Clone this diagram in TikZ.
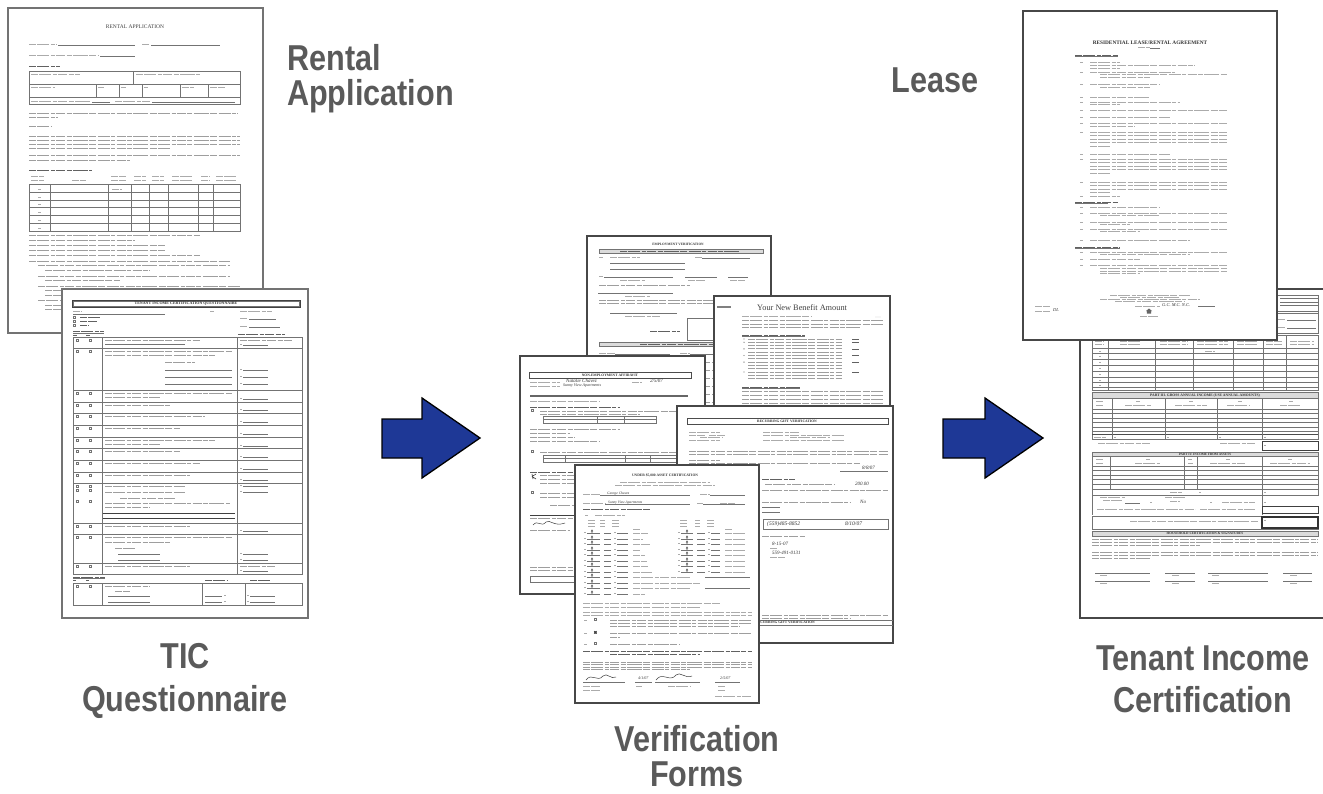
\documentclass[tikz,border=0pt]{standalone}
\usepackage{fontspec}
\setmainfont{Liberation Serif}
\newfontfamily\lblfont{Liberation Sans}[FakeStretch=0.85]
\definecolor{lblgray}{HTML}{5A5A5A}
\definecolor{arrowblue}{RGB}{30,56,150}

\tikzset{
  page/.style={fill=white, draw=black!72, line width=1.2pt},
  tx/.style={draw=black!38, line width=1pt, dash pattern=on 7pt off 1.4pt on 12pt off 1.4pt on 4pt off 1.4pt on 9pt off 1.4pt on 5pt off 1.4pt on 15pt off 1.4pt},
  txd/.style={tx, draw=black!62},
  txs/.style={tx, line width=0.75pt, draw=black!33},
  rl/.style={draw=black!55, line width=0.45pt},
  rlk/.style={draw=black!75, line width=0.9pt},
  bar/.style={fill=black!14, draw=black!55, line width=0.45pt},
  hand/.style={font=\fontsize{5}{5}\selectfont\itshape, text=black!80, inner sep=0pt, anchor=base west},
  ttl/.style={font=\fontsize{3.6}{4}\selectfont\bfseries, text=black!80, inner sep=0pt},
  lbl/.style={font=\lblfont\bfseries\fontsize{36}{40}\selectfont, text=lblgray, inner sep=0pt, anchor=base, text depth=0pt},
  blockarrow/.style={fill=arrowblue, draw=black, line width=1.3pt, line join=miter},
}
% small form helpers: check box, and a "$ ____" amount field
\newcommand\cbx[2]{\draw[rl] (#1,#2) rectangle ++(2.4,2.4);}
\newcommand\dol[2]{\draw[txs] (#1,#2-0.6)--(#1+2,#2-0.6); \draw[rl] (#1+3,#2)--(#1+28,#2);}

\begin{document}
\begin{tikzpicture}[x=1pt,y=-1pt]
\useasboundingbox (0,0) rectangle (1323,793);
\clip (0,0) rectangle (1323,793);

% ---------------- Rental application ----------------
\draw[page, draw=black!55] (8,8) rectangle (263,333);
\node[font=\fontsize{5.5}{6}\selectfont, text=black!75, inner sep=0pt] (ra-title) at (135,27) {RENTAL APPLICATION};
\draw[txs] (29,44)--(57,44) (142,44)--(150,44) (29,55)--(98,55);
\draw[rl] (58,45)--(135,45) (151,45)--(220,45) (100,56)--(135,56);
\draw[txd] (29,66)--(60,66);
\draw[rl] (29,71) rectangle (240,104) (29,84)--(240,84) (29,97)--(240,97) (133,71)--(133,84)
  (96,84)--(96,97) (119,84)--(119,97) (142,84)--(142,97) (180,84)--(180,97) (208,84)--(208,97);
\draw[txs] (31,74)--(80,74) (136,74)--(200,74) (31,87)--(55,87) (98,87)--(104,87) (121,87)--(126,87)
  (144,87)--(148,87) (182,87)--(194,87) (210,87)--(225,87) (31,101)--(90,101) (115,101)--(150,101);
\draw[rl] (92,102)--(110,102) (152,102)--(235,102);
\draw[tx] (29,113)--(238,113) (29,117)--(58,117) (29,126)--(52,126);
\foreach \y in {136,140,144,155} \draw[tx] (29,\y)--(240,\y);
\draw[tx] (29,148)--(170,148) (29,160)--(130,160);
\draw[txd] (29,170)--(92,170);
\draw[txs] (31,176)--(44,176) (31,180)--(44,180) (72,180)--(86,180) (111,176)--(126,176) (111,180)--(126,180)
  (134,176)--(146,176) (134,180)--(146,180) (152,176)--(164,176) (152,180)--(164,180) (172,176)--(192,176)
  (172,180)--(192,180) (201,176)--(210,176) (201,180)--(210,180) (216,176)--(236,176) (216,180)--(236,180);
\draw[rl] (29,184) rectangle (240,231);
\foreach \y in {192,200,207,215,223} \draw[rl] (29,\y)--(240,\y);
\foreach \x in {50,108,131,149,168,198,213} \draw[rl] (\x,184)--(\x,231);
\foreach \y in {189,197,204,212,220,228} \draw[txs] (38,\y)--(41,\y);
\draw[txs] (112,189)--(122,189);
\foreach \y/\a/\b in {235/29/200,240/29/135,245/29/165,250/29/165,255/29/200,261/29/230,265/38/230,270/45/150,
  276/38/230,280/45/120,286/38/240,290/45/240,295/45/120,300/38/240,305/45/240,309/45/110}
  \draw[tx] (\a,\y)--(\b,\y);

% ---------------- TIC questionnaire ----------------
\draw[page, draw=black!55] (62,289) rectangle (308,618);
\draw[rlk] (72,300) rectangle (300,307.5);
\draw[rl] (73.2,301.2) rectangle (298.8,306.3);
\node[ttl, font=\fontsize{4}{4}\selectfont\bfseries] (tq-title) at (186,303.9) {TENANT INCOME CERTIFICATION QUESTIONNAIRE};
\draw[txs] (73,311)--(82,311) (210,311)--(214,311) (240,311)--(272,311);
\draw[rl] (73,314)--(165,314);
\cbx{73}{316} \cbx{73}{320} \cbx{73}{324}
\draw[txd, line width=0.8pt] (80,317.5)--(100,317.5) (80,321.5)--(97,321.5) (80,325.5)--(89,325.5);
\draw[txs] (240,318)--(248,318) (240,326)--(248,326);
\draw[rl] (249,319)--(276,319) (249,327)--(280,327);
\draw[txd, line width=0.8pt] (73,331.5)--(104,331.5) (73,335)--(77,335) (86,335)--(90,335) (238,334)--(285,334);
\draw[rl] (73,333)--(104,333);
\draw[rl] (73,337) rectangle (302,574) (102,337)--(102,574) (237,337)--(237,574);
\foreach \y in {348,390,402,413,425,437,448,460,472,483,523,534,563} \draw[rl] (73,\y)--(302,\y);
\foreach \y in {337,348,390,402,413,425,437,448,460,472,483,523,534,563} {\cbx{76}{\y+2}\cbx{89}{\y+2}}
\cbx{76}{489} \cbx{89}{489} \cbx{76}{500} \cbx{89}{500}
% row texts
\draw[tx] (105,340)--(200,340) (105,351)--(232,351) (105,355)--(215,355) (165,362)--(195,362)
  (105,393)--(232,393) (105,397)--(160,397) (105,405)--(170,405) (105,416)--(205,416) (105,428)--(180,428)
  (105,440)--(215,440) (105,444)--(160,444) (105,451)--(180,451) (105,463)--(200,463) (105,475)--(190,475)
  (105,486)--(185,486) (105,492)--(185,492) (120,498)--(175,498) (105,503)--(230,503) (105,507)--(150,507)
  (105,526)--(190,526) (105,537)--(232,537) (105,542)--(170,542) (115,548)--(135,548) (105,566)--(190,566)
  (240,340)--(292,340) (240,566)--(275,566);
\draw[rl] (105,344)--(185,344) (165,370)--(232,370) (165,377)--(232,377) (165,384)--(232,384)
  (118,554)--(160,554) (118,560)--(160,560);
\draw[rlk] (103,513)--(235,513) (103,518)--(235,518);
\foreach \y in {345,370,377,384,399,410,422,434,446,457,469,480,486,492,531,554,560,571} {\dol{240}{\y}}
% asset part
\draw[txd, line width=0.8pt] (73,577)--(105,577) (73,580)--(76,580) (86,580)--(89,580) (205,580)--(228,580) (250,580)--(270,580);
\draw[rl] (73,578.5)--(105,578.5);
\draw[rl] (73,583) rectangle (302,605) (102,583)--(102,605) (202,583)--(202,605) (245,583)--(245,605);
\cbx{76}{585} \cbx{89}{585}
\draw[tx] (105,586)--(150,586) (115,591)--(130,591);
\draw[rl] (108,596)--(150,596) (108,602)--(150,602) (205,596)--(222,596) (205,602)--(222,602);
\draw[txs] (224,595.4)--(226,595.4) (224,601.4)--(226,601.4);
\dol{247}{596} \dol{247}{602}

% ---------------- Employment verification ----------------
\draw[page] (587,236) rectangle (771,500);
\node[ttl, font=\fontsize{3.4}{4}\selectfont\bfseries] (ev-title) at (678,244) {EMPLOYMENT VERIFICATION};
\draw[bar] (599,249.5) rectangle (763,253);
\draw[txd, line width=0.7pt] (620,251.3)--(740,251.3);
\draw[txs] (599,257)--(603,257) (610,257)--(640,257) (695,257)--(702,257) (599,276)--(603,276)
  (620,280)--(645,280) (688,280)--(705,280) (730,280)--(745,280) (625,296)--(650,296) (625,316)--(660,316);
\draw[rl] (702,258)--(750,258) (610,263)--(685,263) (610,269)--(685,269) (604,277)--(673,277)
  (685,277)--(717,277) (728,277)--(748,277) (598,293)--(673,293) (610,313)--(677,313);
\draw[tx] (599,285)--(690,285) (599,300)--(760,300) (599,303)--(740,303);
\draw[txd] (650,331)--(680,331);
\draw[rl] (687,318) rectangle (740,340);
\draw[bar] (599,342.5) rectangle (763,346);
\draw[txd, line width=0.7pt] (640,344.3)--(720,344.3);
\draw[txs] (599,353)--(615,353) (680,353)--(690,353);
\draw[rl] (615,354)--(670,354) (690,354)--(740,354);
\foreach \y in {362,370,378,386,394,402} \draw[tx] (690,\y)--(765,\y);

% ---------------- Your New Benefit Amount ----------------
\draw[page] (714,296) rectangle (890,470);
\draw[draw=black!50, line width=1.5pt] (717,307)--(731,307);
\node[font=\fontsize{8.3}{9}\selectfont, text=black!75, anchor=base west, inner sep=0pt] (ynb-title) at (757,310.5) {Your New Benefit Amount};
\draw[txs] (742,316)--(812,316);
\fill[black!40] (876,317) circle (0.4) (878,317) circle (0.4) (880,317) circle (0.4);
\draw[tx] (742,320)--(884,320) (742,324)--(884,324) (742,327)--(860,327);
\draw[txd] (742,335)--(805,335);
\draw[rl] (742,336.5)--(805,336.5);
\foreach \y in {339,342.3,345.6,348.9,352.2,355.5,358.8,362.1,365.4,368.7,372,375.3,378.6}
  \draw[tx, line width=0.9pt] (748,\y)--(842,\y);
\foreach \y in {339,342.3,348.9,355.5,362.1,372} {\fill[black!50] (744,\y) circle (0.7); \draw[txd, line width=0.8pt] (852,\y)--(860,\y);}
\draw[txd] (742,387)--(800,387);
\draw[rl] (742,388.5)--(800,388.5);
\foreach \y in {391,395,399,403} \draw[tx] (742,\y)--(884,\y);

% ---------------- Non-employment affidavit ----------------
\draw[page] (520,356) rectangle (705,594);
\draw[draw=black!70, line width=0.8pt] (529,372) rectangle (691,378);
\node[ttl] (ne-title) at (610,375.2) {NON-EMPLOYMENT AFFIDAVIT};
\draw[txs] (530,382)--(560,382) (632,382)--(642,382) (530,386)--(560,386);
\node[hand] (ne-name) at (566,382) {Natalie Chavez};
\node[hand] (ne-date) at (650,382) {2/5/07};
\node[hand, font=\fontsize{4}{4}\selectfont\itshape] (ne-prop) at (563,386.5) {Sunny View Apartments};
\draw[draw=black!60, line width=1.2pt] (530,396)--(688,396);
\draw[txs] (530,401)--(600,401);
\draw[txd] (530,407)--(620,407);
\cbx{531}{409}
\draw[tx] (540,411)--(690,411) (540,414)--(640,414);
\draw[rl] (543,416) rectangle (656,423) (543,419.5)--(656,419.5) (597,416)--(597,423) (624,416)--(624,423);
\draw[tx] (530,429)--(620,429) (530,433)--(570,433) (530,437)--(575,437) (530,441)--(600,441);
\cbx{531}{450}
\draw[tx] (540,452)--(690,452);
\draw[rl] (543,455) rectangle (677,462) (543,458)--(677,458) (565,455)--(565,462) (625,455)--(625,462) (650,455)--(650,462);
\draw[txd] (530,472)--(600,472);
\draw[draw=black!75, line width=0.6pt] (532,474)--(533,479) (532,476.5)--(536,474) (532,476.5)--(536,479);
\draw[tx] (540,475)--(600,475) (540,479)--(580,479) (540,483)--(575,483);
\cbx{531}{491}
\draw[tx] (540,493)--(600,493) (540,497)--(580,497) (550,505)--(575,505);
\draw[rlk] (530,515)--(600,515);
\draw[tx] (530,518)--(580,518) (530,530)--(570,530) (530,567)--(580,567) (530,570)--(580,570);
\draw[draw=black!75, line width=0.5pt] (533,525) .. controls (538,519) and (541,528) .. (546,522) .. controls (550,519) and (554,527) .. (565,523);
\draw[rl] (530,576) rectangle (700,582);

% ---------------- Recurring gift verification ----------------
\draw[page] (677,406) rectangle (893,643);
\draw[draw=black!70, line width=0.8pt] (687,418.5) rectangle (888,424);
\node[ttl] (rg-title) at (787,421.4) {RECURRING GIFT VERIFICATION};
\draw[txs] (689,432)--(720,432) (689,435)--(705,435) (709,435)--(725,435) (700,437.5)--(722,437.5) (689,440)--(720,440)
  (763,432)--(800,432) (763,435)--(845,435) (790,437.5)--(830,437.5) (763,440)--(845,440);
\draw[tx] (689,451)--(888,451) (689,454)--(888,454) (689,460)--(720,460) (689,463)--(860,463);
\node[hand] (rg-date1) at (862,469.5) {8/8/07};
\draw[rl] (840,471)--(888,471);
\draw[txd] (762,479)--(795,479);
\draw[tx] (765,484)--(835,484) (762,490)--(888,490) (762,502)--(850,502) (762,536)--(805,536) (762,615)--(888,615) (762,618)--(850,618);
\node[hand] (rg-amt) at (855,485) {200.00};
\node[hand] (rg-no) at (860,503) {No};
\draw[rl] (762,507)--(780,507) (762,512)--(780,512) (763,519) rectangle (888,529);
\node[hand, font=\fontsize{5.5}{5}\selectfont\itshape] (rg-phone) at (767,525.5) {(559)485-8852};
\node[hand, font=\fontsize{5.5}{5}\selectfont\itshape] (rg-date2) at (845,525.5) {8/10/07};
\node[hand] (rg-date3) at (772,545) {8-15-07};
\draw[txs] (770,548)--(778,548) (770,557)--(785,557);
\node[hand] (rg-tel) at (772,554) {559-491-0131};
\draw[rl] (757,620)--(893,620) (757,625.5)--(893,625.5);
\node[ttl, anchor=east] (rg-foot) at (815,622.8) {RECURRING GIFT VERIFICATION};

% ---------------- Under $5,000 asset certification ----------------
\draw[page] (575,465) rectangle (759,703);
\node[ttl] (ac-title) at (665,475) {UNDER \$5,000 ASSET CERTIFICATION};
\draw[txs] (620,482)--(710,482) (615,485)--(715,485);
\draw[txs] (583,494)--(600,494) (700,494)--(710,494) (583,503)--(605,503) (697,503)--(703,503) (720,503)--(735,503);
\draw[rl] (600,495)--(690,495) (710,495)--(745,495) (605,504)--(690,504) (703,504)--(745,504);
\node[hand, font=\fontsize{3.6}{4}\selectfont\itshape] (ac-hh) at (607,494) {George Chavez};
\node[hand, font=\fontsize{3.6}{4}\selectfont\itshape] (ac-dev) at (608,503) {Sunny View Apartments};
\draw[txd] (583,509)--(650,509);
\draw[txs] (585,515)--(588,515) (595,515)--(625,515);
\foreach \y in {520,523,526} \draw[txs] (588,\y)--(595,\y) (600,\y)--(605,\y) (612,\y)--(620,\y) (680,\y)--(688,\y) (695,\y)--(700,\y) (707,\y)--(715,\y);
\draw[txs] (633,529)--(640,529) (725,529)--(732,529);
\foreach \y in {533,539,544,550,555,561,566,572,577,583,588,594} {
  \draw[txs] (584,\y-0.6)--(586,\y-0.6) (614,\y-0.6)--(616,\y-0.6);
  \draw[rl] (587,\y)--(600,\y) (604,\y)--(611,\y) (617,\y)--(628,\y);
  \draw[draw=black!70, line width=0.4pt] (592,\y-1.8) ellipse (0.9 and 1.4);
}
\foreach \y/\b in {533/648,539/643,544/650,550/640,555/645,561/647,566/648,572/652,577/690,583/700,588/690,594/645} \draw[txs] (633,\y)--(\b,\y);
\draw[rl] (705,577)--(750,577) (705,588)--(750,588);
\foreach \y in {533,539,544,550,555,561,566,572} {
  \draw[txs] (678,\y-0.6)--(680,\y-0.6) (708,\y-0.6)--(710,\y-0.6) (725,\y)--(745,\y);
  \draw[rl] (681,\y)--(693,\y) (697,\y)--(705,\y) (711,\y)--(720,\y);
  \draw[draw=black!70, line width=0.4pt] (687,\y-1.8) ellipse (0.9 and 1.4);
}
\draw[txs] (583,603)--(720,603) (583,607)--(700,607) (583,612)--(752,612) (583,615)--(752,615);
\draw[txs] (584,620)--(587,620) (584,633)--(587,633) (584,644)--(587,644);
\cbx{594}{618} \cbx{594}{631} \cbx{594}{642}
\draw[draw=black!75, line width=0.5pt] (594,631)--(596.4,633.4) (596.4,631)--(594,633.4);
\draw[tx] (610,620)--(752,620) (610,623)--(752,623) (610,626)--(740,626) (610,633)--(752,633) (610,637)--(620,637) (610,644)--(680,644);
\draw[txd] (583,651)--(752,651) (610,654)--(700,654);
\draw[tx] (583,662)--(752,662) (583,664.5)--(752,664.5) (583,667)--(752,667) (583,669.5)--(690,669.5);
\draw[draw=black!75, line width=0.5pt] (586,680) .. controls (592,672) and (597,683) .. (603,676) .. controls (607,672) and (611,680) .. (616,677);
\draw[draw=black!75, line width=0.5pt] (656,680) .. controls (662,671) and (670,683) .. (676,675) .. controls (680,671) and (685,679) .. (692,676);
\node[hand, font=\fontsize{4}{4}\selectfont\itshape] (ac-d1) at (638,679) {4/1/07};
\node[hand, font=\fontsize{4}{4}\selectfont\itshape] (ac-d2) at (720,679) {2/5/07};
\draw[rl] (583,682)--(625,682) (635,682)--(652,682) (655,682)--(700,682) (715,682)--(740,682);
\draw[txs] (583,686)--(600,686) (636,686)--(642,686) (668,686)--(690,686) (718,686)--(725,686) (583,690)--(600,690) (718,690)--(725,690);
\draw[txs] (715,696)--(752,696);

% ---------------- Tenant income certification ----------------
\draw[page] (1080,289) rectangle (1340,618);
\draw[rl] (1092,295) rectangle (1318,333) (1280,298)--(1318,298) (1280,302)--(1318,302) (1280,305)--(1318,305) (1092,311)--(1318,311) (1092,313.5)--(1318,313.5);
\draw[txs] (1278,319)--(1285,319) (1278,327)--(1285,327);
\draw[rl] (1287,320)--(1316,320) (1287,328)--(1316,328);
\draw[rl] (1092,335) rectangle (1318,390);
\foreach \y in {348,353,359,365,371,377,382,387} \draw[rl] (1092,\y)--(1318,\y);
\foreach \x in {1108,1155,1193,1233,1263,1286} \draw[rl] (\x,335)--(\x,390);
\foreach \x/\b in {1095/1104,1120/1140,1160/1188,1197/1228,1237/1258,1266/1282,1290/1314} \draw[txs] (\x,341)--(\b,341) (\x,344.5)--(\b,344.5);
\foreach \y in {351,356.5,362.5,368.5,374.5,380,385} \draw[txs] (1099,\y)--(1101,\y);
\draw[txs] (1205,351)--(1215,351);
\draw[bar] (1092,392) rectangle (1318,398);
\node[ttl, font=\fontsize{3.7}{4}\selectfont\bfseries] (tc-p3) at (1205,395.2) {PART III. GROSS ANNUAL INCOME (USE ANNUAL AMOUNTS)};
\draw[rl] (1092,398) rectangle (1318,439) (1092,409)--(1318,409);
\foreach \y in {413.5,418,422.5,427,431} \draw[rl] (1092,\y)--(1318,\y);
\draw[draw=black!70, line width=0.7pt] (1092,434)--(1318,434);
\foreach \x in {1112,1165,1217,1262} \draw[rl] (\x,398)--(\x,439);
\draw[txs] (1096,401)--(1104,401) (1096,405)--(1104,405) (1136,401)--(1140,401) (1125,405)--(1152,405)
  (1189,401)--(1193,401) (1175,405)--(1207,405) (1238,401)--(1242,401) (1227,405)--(1250,405)
  (1289,401)--(1293,401) (1280,405)--(1300,405) (1094,437)--(1106,437);
\foreach \x in {1114,1167,1219,1264} \draw[txs] (\x,437)--(\x+2,437);
\draw[txs] (1098,443)--(1150,443) (1220,443)--(1255,443) (1264,445)--(1266,445);
\draw[rlk] (1262,441) rectangle (1318,450);
\draw[bar] (1092,452) rectangle (1318,456);
\node[ttl, font=\fontsize{3.3}{4}\selectfont\bfseries] (tc-p4) at (1205,454.2) {PART IV. INCOME FROM ASSETS};
\draw[rl] (1092,456) rectangle (1318,495) (1092,466)--(1318,466);
\foreach \y in {470.5,475,479.5,484,489} \draw[rl] (1092,\y)--(1318,\y);
\foreach \x in {1110,1184,1197} \draw[rl] (\x,456)--(\x,489);
\draw[rl] (1262,456)--(1262,515) (1092,495)--(1092,515);
\draw[txs] (1096,459)--(1104,459) (1096,463)--(1104,463) (1146,459)--(1150,459) (1135,463)--(1160,463)
  (1188,459)--(1192,459) (1188,463)--(1193,463) (1226,459)--(1230,459) (1210,463)--(1245,463)
  (1288,459)--(1292,459) (1270,463)--(1310,463) (1170,492)--(1182,492) (1199,492)--(1201,492) (1264,492)--(1266,492)
  (1100,497)--(1125,497) (1103,500)--(1122,500) (1150,502)--(1152,502) (1165,497)--(1185,497) (1170,501)--(1180,501)
  (1210,502)--(1212,502) (1222,502)--(1255,502) (1264,502)--(1266,502) (1097,509)--(1195,509) (1200,509)--(1255,509);
\draw[rl] (1125,503)--(1140,503);
\draw[rlk] (1262,506) rectangle (1318,513);
\draw[rl] (1092,516) rectangle (1318,529);
\draw[txs] (1130,521)--(1258,521) (1264,520)--(1266,520);
\draw[draw=black!80, line width=1.1pt] (1262,517) rectangle (1318,528);
\draw[bar] (1092,531) rectangle (1318,536);
\node[ttl, font=\fontsize{3.4}{4}\selectfont\bfseries] (tc-sig) at (1205,533.7) {HOUSEHOLD CERTIFICATION \& SIGNATURES};
\draw[tx, line width=0.8pt] (1092,539)--(1318,539) (1092,542)--(1318,542) (1092,545)--(1200,545)
  (1092,552)--(1318,552) (1092,555)--(1318,555) (1092,558)--(1150,558);
\draw[rl] (1095,573)--(1150,573) (1165,573)--(1195,573) (1208,573)--(1268,573) (1283,573)--(1312,573)
  (1095,581)--(1150,581) (1165,581)--(1195,581) (1208,581)--(1268,581) (1283,581)--(1312,581);
\foreach \y in {575.5,583.5} \draw[txs] (1100,\y)--(1108,\y) (1172,\y)--(1180,\y) (1212,\y)--(1220,\y) (1290,\y)--(1297,\y);

% ---------------- Residential lease ----------------
\draw[page] (1023,11) rectangle (1277,340);
\node[font=\fontsize{5.3}{6}\selectfont\bfseries, text=black!80, inner sep=0pt] (ls-title) at (1150,43) {RESIDENTIAL LEASE/RENTAL AGREEMENT};
\draw[txs] (1138,47)--(1150,47);
\draw[rl] (1150,47.8)--(1160,47.8);
\draw[txd, line width=0.8pt] (1075,55)--(1118,55) (1075,202)--(1118,202) (1075,247)--(1120,247);
\draw[rl] (1075,56.3)--(1118,56.3) (1075,203.3)--(1108,203.3) (1075,248.3)--(1120,248.3);
\foreach \y/\a/\b in {62/1090/1120,65/1090/1195,68/1090/1120,72/1090/1175,74.5/1100/1227,77/1100/1150,
  84/1090/1160,87/1100/1150,97/1090/1150,102/1090/1180,104.5/1090/1120,110/1090/1227,117/1090/1170,
  123/1090/1227,126/1090/1135,132/1090/1227,135.5/1090/1227,139/1090/1227,142.5/1090/1227,146/1090/1110,
  154/1090/1170,159/1090/1227,162.5/1090/1227,166/1090/1227,169.5/1090/1227,173/1090/1110,
  182/1090/1227,185.5/1090/1227,189/1090/1227,192.5/1090/1110,196/1090/1120,
  207/1090/1160,213/1090/1227,215.5/1100/1160,222/1090/1227,224.5/1100/1130,229/1090/1227,231.5/1100/1140,
  240/1090/1190,252/1090/1227,254.5/1100/1190,259/1090/1140,265/1090/1227,268/1100/1227,271/1100/1227,273.5/1100/1140}
  \draw[txs] (\a,\y)--(\b,\y);
\foreach \y in {62,72,84,97,102,110,117,123,132,154,159,182,196,207,213,222,229,240,252,259,265} \draw[txs] (1080,\y)--(1083,\y);
\draw[txs, line width=0.6pt] (1110,295)--(1190,295) (1120,297)--(1180,297) (1100,299)--(1200,299) (1115,301)--(1185,301)
  (1035,306)--(1050,306) (1035,311)--(1050,311) (1135,306)--(1160,306) (1140,316)--(1158,316);
\node[hand, font=\fontsize{4.5}{4}\selectfont\itshape] (ls-init1) at (1162,306.5) {G.C.\ M.C.\ N.C.};
\node[hand, font=\fontsize{4.5}{4}\selectfont\itshape] (ls-init2) at (1053,311.5) {DL};
\draw[rl] (1198,306.5)--(1215,306.5);
\fill[black!60] (1146,311) -- (1149,308.5) -- (1152,311) -- cycle (1146.8,311) rectangle (1151.2,313.5);

% ---------------- arrows ----------------
\draw[blockarrow] (382,419) -- (422,419) -- (422,398) -- (480,438) -- (422,478) -- (422,458) -- (382,458) -- cycle;
\draw[blockarrow] (943,419) -- (985,419) -- (985,398) -- (1043,438) -- (985,478) -- (985,458) -- (943,458) -- cycle;

% ---------------- captions ----------------
\node[lbl, anchor=base west] (lab-rental) at (287,70) {Rental};
\node[lbl, anchor=base west] (lab-app) at (287,105) {Application};
\node[lbl] (lab-lease) at (935,92) {Lease};
\node[lbl] (lab-tic1) at (185,668) {TIC};
\node[lbl] (lab-tic2) at (185,711) {Questionnaire};
\node[lbl] (lab-ver1) at (697,751) {Verification};
\node[lbl] (lab-ver2) at (697,786) {Forms};
\node[lbl] (lab-cert1) at (1203,670) {Tenant Income};
\node[lbl] (lab-cert2) at (1203,712) {Certification};
\end{tikzpicture}
\end{document}
